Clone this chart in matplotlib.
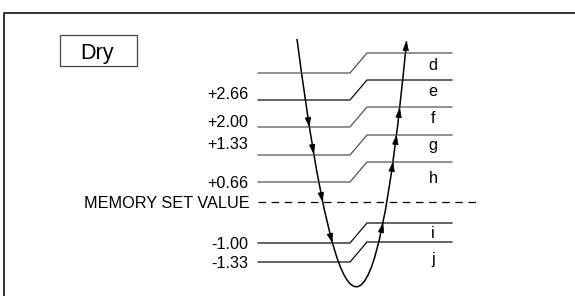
import numpy as np
import matplotlib
matplotlib.use("Agg")
import matplotlib.pyplot as plt
from matplotlib.path import Path
from matplotlib.patches import PathPatch, Polygon, Rectangle

plt.rcParams['font.family'] = ['Liberation Sans', 'DejaVu Sans']

# schematic coordinates (y grows downward, like the picture)
level_names = ['d', 'e', 'f', 'g', 'h', 'i', 'j']
level_left_y = [73, 100, 127, 155, 182, 243, 262]
level_right_y = [53, 80, 107, 135, 162, 223, 242]
level_values = ['', '+2.66', '+2.00', '+1.33', '+0.66', '-1.00', '-1.33']
level_dark = [False, True, False, False, False, True, True]
memory_y = 202
memory_label = 'MEMORY SET VALUE'
title = 'Dry'

# U-shaped curve as a quadratic bezier: start, control, end
curve_pts = [(297, 39), (360.5, 533.5), (406.5, 41.5)]
arrows_down_y = [122, 149, 197, 238]
arrows_up_y = [228, 167, 140, 113]

value_dy = [0, -1, 0, -6, 6, 6, 6]
letter_dy = [17, 16, 16, 15, 21, 15, 22]

fig = plt.figure(figsize=(5.75, 2.96), dpi=100)
ax = fig.add_axes([0, 0, 1, 1])
ax.set_xlim(0, 575)
ax.set_ylim(296, 0)
ax.axis('off')

# frame
ax.plot([4, 4, 575], [296, 13, 13], color='#333333', lw=1.4, solid_capstyle='butt')

# title box
ax.add_patch(Rectangle((60, 35), 77, 31, fill=False, edgecolor='#444444', lw=0.9))
ax.text(97, 59, title, ha='center', va='baseline', fontsize=15.5)

# step lines
x_left0, x_left1, x_right0, x_right1 = 258, 350, 367, 452
for i, name in enumerate(level_names):
    c = 'black' if level_dark[i] else '#4a4a4a'
    ax.plot([x_left0, x_left1, x_right0, x_right1],
            [level_left_y[i], level_left_y[i], level_right_y[i], level_right_y[i]],
            color=c, lw=0.85)
    ax.text(433, level_right_y[i] + letter_dy[i], name, ha='center', va='baseline', fontsize=11.7)
    if level_values[i]:
        ax.text(248, level_left_y[i] + value_dy[i], level_values[i],
                ha='right', va='baseline', fontsize=11.7)

# memory set value
ax.plot([x_left0, 476], [memory_y, memory_y], color='black', lw=0.9, dashes=(6, 4.5))
ax.text(250, memory_y + 6, memory_label, ha='right', va='baseline', fontsize=11.7)

# curve
p0, p1, p2 = [np.array(p, dtype=float) for p in curve_pts]
path = Path([p0, p1, p2], [Path.MOVETO, Path.CURVE3, Path.CURVE3])
ax.add_patch(PathPatch(path, fill=False, edgecolor='black', lw=1.1))


def bez(t):
    return (1 - t) ** 2 * p0 + 2 * t * (1 - t) * p1 + t ** 2 * p2


def bez_d(t):
    return 2 * (1 - t) * (p1 - p0) + 2 * t * (p2 - p1)


def t_at_y(y, left):
    a = p0[1] - 2 * p1[1] + p2[1]
    b = 2 * (p1[1] - p0[1])
    c = p0[1] - y
    r = np.roots([a, b, c])
    r = np.real(r[np.isreal(r)])
    r = r[(r >= 0) & (r <= 1)]
    return r.min() if left else r.max()


def head(tip, d, L=9.0, W=5.5):
    d = d / np.hypot(*d)
    n = np.array([-d[1], d[0]])
    base = tip - d * L
    ax.add_patch(Polygon([tip, base + n * W / 2, base - n * W / 2],
                         closed=True, facecolor='black', edgecolor='black', lw=0.5))


for y in arrows_down_y:
    t = t_at_y(y, True)
    d = bez_d(t)
    head(bez(t) + d / np.hypot(*d) * 4.5, d)
for y in arrows_up_y:
    t = t_at_y(y, False)
    d = bez_d(t)
    head(bez(t) + d / np.hypot(*d) * 4.5, d)
head(bez(1.0), bez_d(1.0))

fig.savefig('out.png', dpi=100)
plt.close(fig)
